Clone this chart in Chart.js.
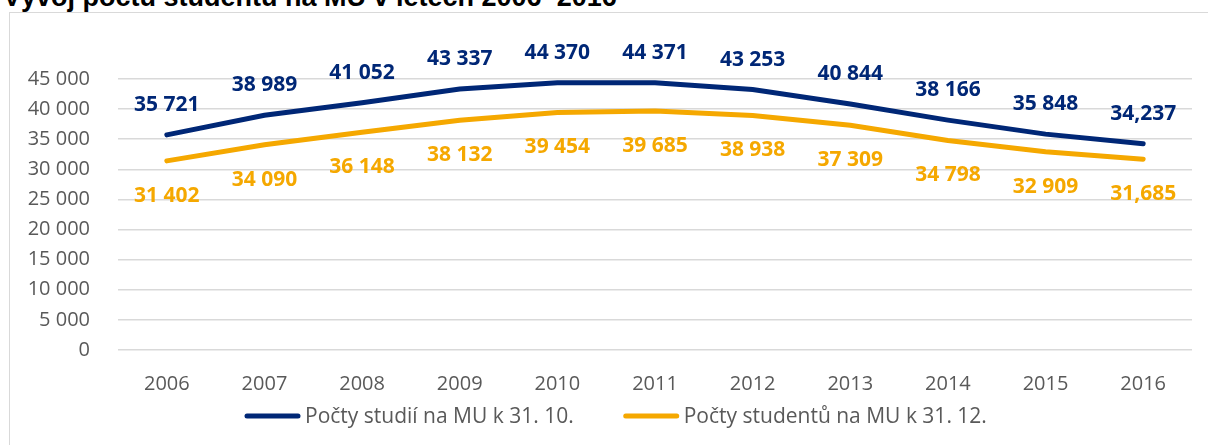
<!DOCTYPE html>
<html>
<head>
<meta charset="utf-8">
<script src="https://cdn.jsdelivr.net/npm/chart.js@4/dist/chart.umd.min.js"></script>
<style>
  body { margin: 0; background: #fff; overflow: hidden; }
  #title {
    position: absolute; left: 3px; top: -16px; margin: 0;
    font: bold 27px "Liberation Sans", Arial, sans-serif; line-height: 27px;
    color: #000; white-space: nowrap;
  }
  #frame {
    position: absolute; left: 9px; top: 12px; width: 1300px; height: 500px;
    border: 1px solid #d9d9d9;
  }
  #dataChart { position: absolute; left: 0; top: 0; }
</style>
</head>
<body>
<div id="title">Vývoj počtu studentů na MU v letech 2006–2016</div>
<div id="frame"></div>
<canvas id="dataChart" width="1208" height="445"></canvas>
<script>
// Data
const roky = ['2006', '2007', '2008', '2009', '2010', '2011', '2012', '2013', '2014', '2015', '2016'];
const studia = [35721, 38989, 41052, 43337, 44370, 44371, 43253, 40844, 38166, 35848, 34237];
const studenti = [31402, 34090, 36148, 38132, 39454, 39685, 38938, 37309, 34798, 32909, 31685];
const studiaPopisky = ['35 721', '38 989', '41 052', '43 337', '44 370', '44 371', '43 253', '40 844', '38 166', '35 848', '34,237'];
const studentiPopisky = ['31 402', '34 090', '36 148', '38 132', '39 454', '39 685', '38 938', '37 309', '34 798', '32 909', '31,685'];
const nazvy = ['Počty studií na MU k 31. 10.', 'Počty studentů na MU k 31. 12.'];
const barvy = ['#002776', '#F5A800'];

const font = '"Open Sans", "Noto Sans", sans-serif';

// popisky hodnot nad / pod body
const popiskyPlugin = {
    id: 'popisky',
    afterDatasetsDraw(chart) {
        const ctx = chart.ctx;
        const sady = [[studiaPopisky, -30], [studentiPopisky, 35]];
        ctx.save();
        ctx.font = 'bold 21px ' + font;
        ctx.textAlign = 'center';
        ctx.textBaseline = 'middle';
        chart.data.datasets.forEach((ds, i) => {
            const meta = chart.getDatasetMeta(i);
            ctx.fillStyle = ds.borderColor;
            meta.data.forEach((pt, j) => {
                ctx.fillText(sady[i][0][j], pt.x, pt.y + sady[i][1]);
            });
        });
        ctx.restore();
    }
};

// legenda dole (čára + text)
const legendaPlugin = {
    id: 'legenda',
    afterDraw(chart) {
        const ctx = chart.ctx;
        const y = 416, delka = 51, mezera = 7, odstup = 52;
        ctx.save();
        ctx.font = '21px ' + font;
        ctx.textBaseline = 'middle';
        const sirky = chart.data.datasets.map(ds => delka + mezera + ctx.measureText(ds.label).width);
        const celkem = sirky.reduce((a, b) => a + b, 0) + odstup * (sirky.length - 1);
        let x = 247;
        chart.data.datasets.forEach((ds, i) => {
            ctx.strokeStyle = ds.borderColor;
            ctx.lineWidth = 5;
            ctx.lineCap = 'round';
            ctx.beginPath();
            ctx.moveTo(x, y);
            ctx.lineTo(x + delka, y);
            ctx.stroke();
            ctx.fillStyle = '#595959';
            ctx.fillText(ds.label, x + delka + mezera, y + 1);
            x += sirky[i] + odstup;
        });
        ctx.restore();
    }
};

const ctx = document.getElementById('dataChart').getContext('2d');

dataChart = new Chart(ctx, {
    type: 'line',
    data: {
        labels: roky,
        datasets: [{
            label: nazvy[0],
            data: studia,
            borderColor: barvy[0],
            backgroundColor: barvy[0],
            borderWidth: 5,
            borderCapStyle: 'round',
            pointRadius: 0,
            tension: 0,
            fill: false
        }, {
            label: nazvy[1],
            data: studenti,
            borderColor: barvy[1],
            backgroundColor: barvy[1],
            borderWidth: 5,
            borderCapStyle: 'round',
            pointRadius: 0,
            tension: 0,
            fill: false
        }]
    },
    options: {
        responsive: false,
        animation: false,
        layout: { padding: { top: 79, right: 16, left: 0, bottom: 0 } },
        plugins: {
            legend: { display: false },
            tooltip: { enabled: false }
        },
        scales: {
            x: {
                offset: true,
                grid: { display: false },
                border: { display: false },
                ticks: { color: '#595959', font: { family: font, size: 20 }, padding: 14, maxRotation: 0 },
                afterFit: s => { s.height = 95; }
            },
            y: {
                min: 0,
                max: 45000,
                grid: { color: '#d9d9d9', lineWidth: 1.5, drawTicks: false },
                border: { display: false },
                ticks: {
                    stepSize: 5000,
                    padding: 28,
                    color: '#595959',
                    font: { family: font, size: 20 },
                    callback: v => v.toLocaleString('cs-CZ').replace(/\s/g, ' ')
                },
                afterFit: s => { s.width = 118; }
            }
        }
    },
    plugins: [popiskyPlugin, legendaPlugin]
});
</script>
</body>
</html>
